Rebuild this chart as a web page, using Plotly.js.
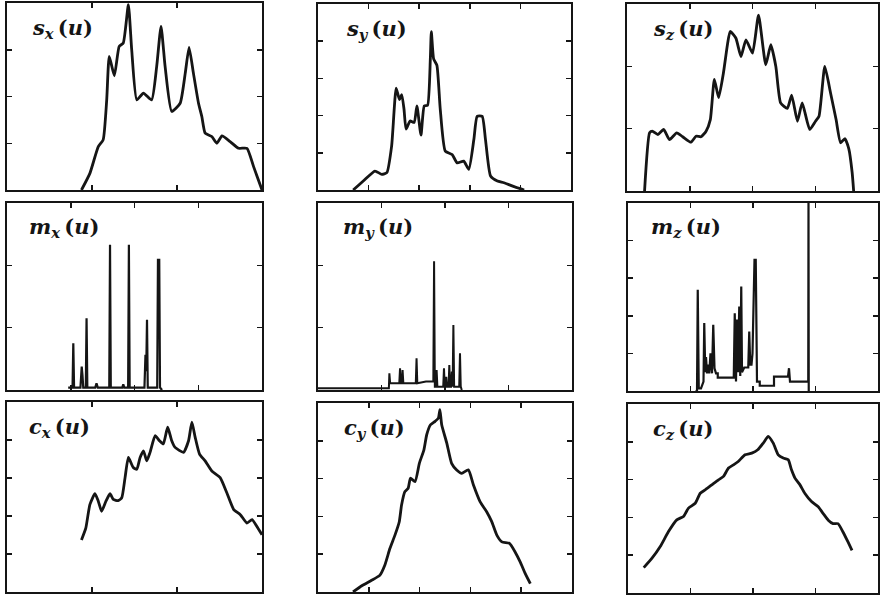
<!DOCTYPE html>
<html><head><meta charset="utf-8">
<script src="https://cdn.plot.ly/plotly-3.0.1.min.js"></script>
<style>html,body{margin:0;padding:0;background:#fff}#chart{width:880px;height:595px}</style>
</head><body><div id="chart"></div>
<script>
// ---- data (u and value in percent of each panel's axis range) ----
const U_sx = [29.2,32.5,35.8,37.7,39.1,40.1,42.1,44.0,45.6,47.6,48.9,50.9,53.5,56.7,58.7,60.4,62.0,64.6,67.9,69.9,71.4,73.1,75.1,76.4,77.7,80.3,82.3,84.3,87.5,90.8,94.1,96.7,100];
const V_sx = [0,8.9,23.2,26.8,48.2,71.4,61.1,76.8,78.6,99.1,75.0,48.2,51.8,48.2,66.1,87.5,66.1,42.0,46.4,62.5,76.3,62.5,46.4,39.3,30.4,28.6,25.0,28.9,25.9,22.3,22.3,12.5,0];

const U_sy = [13.9,17.9,22.5,25.2,27.2,29.1,30.9,32.2,33.1,34.0,34.8,36.4,38.0,39.1,40.7,42.0,43.3,44.4,44.8,45.7,47.0,48.3,50.3,53.0,55.0,57.6,59.6,61.6,62.9,64.9,66.2,68.2,70.9,73.5,77.5,81.5];
const V_sy = [0,4.8,10.2,8.4,9.3,23.6,54.8,48.6,51.3,43.4,32.7,37.1,36.3,45.2,29.5,45.2,45.5,70.5,85.2,70.5,67.0,43.8,20.9,19.1,14.6,15.5,11.1,27.1,39.6,39.6,27.1,7.5,4.8,3.9,1.8,0];

const U_sz = [7.0,9.0,10.1,12.3,14.6,16.9,19.8,22.2,25.5,27.5,29.5,31.5,33.2,34.8,36.5,38.4,40.1,41.1,43.4,45.4,47.4,50.0,52.4,55.3,57.3,59.3,61.2,63.9,65.6,67.9,69.8,72.8,75.1,76.5,78.8,81.1,83.3,85.1,86.8,88.4,89.7,90.3];
const V_sz = [0,31.1,32.0,30.2,32.9,27.5,31.1,29.0,26.1,29.3,29.0,32.0,38.2,59.7,49.9,63.0,79.0,85.3,81.7,71.9,80.8,73.7,94.0,67.5,78.2,66.6,47.1,44.2,51.3,37.3,47.1,32.9,37.3,40.0,66.6,52.4,38.2,25.8,28.0,22.4,9.9,0];

const U_mx = [24.0,25.7,26.0,26.3,28.8,29.3,29.6,29.9,30.9,31.2,31.5,34.6,35.1,35.6,40.1,40.4,40.7,45.2,45.6,46.0,47.5,47.8,48.1,53.9,54.3,54.6,54.9,55.2,55.5,58.9,59.2,59.7,60.0,60.8];
const V_mx = [1.3,1.3,25.0,1.3,1.3,12.5,8.0,1.3,1.3,38.4,1.3,1.3,3.6,1.3,1.3,77.7,1.3,1.3,3.0,1.3,1.3,77.7,1.3,1.3,18.8,10.0,37.5,1.3,1.3,1.3,69.6,69.6,1.3,0];

const U_my = [0,27.9,28.1,28.4,32.0,32.3,32.6,33.0,33.3,33.6,38.5,38.8,39.1,42.5,45.4,45.7,46.0,46.4,46.7,47.0,49.3,49.6,49.9,50.2,50.5,50.8,51.4,51.7,52.0,52.4,52.7,53.0,53.3,53.6,54.6,55.6,55.9,56.2,56.6];
const V_my = [0.9,0.9,8.9,3.6,3.6,11.6,3.6,3.6,10.7,3.6,3.6,17.0,3.6,4.5,4.5,68.8,1.8,1.8,10.7,1.8,1.8,11.6,1.8,1.8,7.1,1.8,1.8,13.4,1.8,1.8,9.8,1.8,34.8,1.8,1.8,1.8,19.6,1.8,0];

const U_mz = [27.0,27.6,27.9,28.3,29.2,30.2,30.5,30.9,31.2,31.6,32.0,32.5,33.0,33.6,34.1,34.6,35.2,35.9,35.9,42.3,42.7,43.2,43.6,44.0,44.5,44.9,45.3,45.6,46.5,48.1,48.5,48.9,49.4,49.8,50.6,51.1,51.6,52.7,52.7,58.4,58.4,64.0,64.4,64.8,72.1,72.2,72.3];
const V_mz = [0,0,53.8,1.4,1.4,5,36.1,10,18,9.4,14,9.4,20,9.4,35.2,12,9.4,9.4,7.1,7.1,41.4,5,38,10,45,8,55.6,10,12.5,12.5,31.6,14,14,20,69.8,69.8,5,5,2.8,2.8,7.6,7.6,12.1,5.0,5.0,100,0];

const U_cx = [29.2,30.9,32.5,34.5,35.8,37.1,38.8,40.4,41.7,43.6,45.0,46.3,47.6,49.5,50.9,52.2,53.5,54.8,56.1,58.1,59.8,61.3,63.0,64.6,65.9,69.2,71.2,72.5,73.8,75.5,77.7,80.3,83.6,86.2,88.9,91.5,94.1,96.1,98.0,100];
const V_cx = [27.4,33.6,46.0,51.7,47.8,42.5,47.8,51.7,48.7,48.1,49.6,60.2,70.8,65.5,64.6,70.8,74.3,69.0,73.5,82.3,79.6,77.9,86.7,79.6,76.1,73.5,79.6,89.4,81.4,72.6,69.0,63.7,60.2,52.2,43.4,40.7,36.3,38.1,34.5,30.1];

const U_cy = [13.8,17.1,21.1,24.3,26.3,28.3,30.3,32.0,32.9,34.2,35.5,36.4,38.2,39.9,41.7,42.8,44.3,46.1,47.4,48.0,48.7,50.7,52.6,54.6,56.6,59.2,61.2,63.8,66.4,68.4,70.4,72.4,75.4,77.6,79.6,81.6,83.6];
const V_cy = [0,3.2,6.2,8.8,14.2,23.0,30.1,37.2,46.0,53.1,54.9,60.2,58.4,68.1,75.2,83.2,88.5,90.3,92.0,96.5,88.5,78.8,68.1,64.6,62.8,64.6,56.6,47.8,42.5,37.2,30.1,26.5,25.7,21.2,15.9,9.7,4.4];

const U_cz = [6.3,9.6,12.9,16.2,19.5,22.2,24.2,26.9,28.9,30.9,33.5,36.2,38.2,40.2,42.2,44.1,46.8,49.5,51.9,54.1,56.1,58.1,60.1,62.1,64.1,65.4,66.8,68.8,70.7,73.4,76.1,78.1,80.1,82.0,84.0,86.0,88.0,89.6];
const V_cz = [13.4,18.4,24.6,32.5,38.7,40.5,44.9,47.5,52.8,54.6,57.2,59.9,61.7,66.1,67.8,69.6,73.1,74.0,75.8,79.3,82.9,79.3,73.1,71.4,70.5,65.2,60.8,57.2,52.8,48.4,45.6,42.0,38.5,36.7,36.7,32.3,27.0,22.6];

const LABEL_NAMES = ['s','s','s','m','m','m','c','c','c'];
const LABEL_SUBS  = ['x','y','z','x','y','z','x','y','z'];
const SERIES_U = [U_sx,U_sy,U_sz,U_mx,U_my,U_mz,U_cx,U_cy,U_cz];
const SERIES_V = [V_sx,V_sy,V_sz,V_mx,V_my,V_mz,V_cx,V_cy,V_cz];

// ---- layout (pixels) ----
const W = 880, H = 595;
const BOX = [[7,262,3,190],[318,571,4,190],[627,878,4,191],
             [7,262,203,390],[318,572,203,390],[628,878,203,391],
             [7,262,402,592],[318,572,403,592],[628,878,404,593]];
const NX = [3,5,4, 4,4,4, 3,5,4];
const NY = [4,5,3, 3,3,5, 5,5,5];
const LW = [2.8,2.8,2.8, 2.2,2,2.2, 2.8,2.8,2.8];
const SMOOTH = [true,true,true, false,false,false, true,true,true];
const LX = [23,26,24, 20,23,21, 20,24,23];
const INK = '#151515';

const traces = [];
const layout = {width:W,height:H,margin:{l:0,r:0,t:0,b:0},paper_bgcolor:'#fff',plot_bgcolor:'#fff',showlegend:false,annotations:[]};
const ticks = k => Array.from({length:k-1},(_,j)=>100*(j+1)/k);
for (let i=0;i<9;i++){
  const n = i===0 ? '' : String(i+1);
  traces.push({x:SERIES_U[i],y:SERIES_V[i],xaxis:'x'+n,yaxis:'y'+n,type:'scatter',mode:'lines',
    line:SMOOTH[i]?{color:INK,width:LW[i],shape:'spline',smoothing:0.5}:{color:INK,width:LW[i]},hoverinfo:'skip'});
  const [l,r,t,b] = BOX[i];
  const common = {showline:true,linecolor:INK,linewidth:2,mirror:'ticks',ticks:'inside',ticklen:5,tickwidth:1.5,
    tickcolor:INK,showticklabels:false,showgrid:false,zeroline:false,range:[0,100],tickmode:'array',fixedrange:true};
  layout['xaxis'+n] = Object.assign({},common,{domain:[l/W,r/W],anchor:'y'+n,tickvals:ticks(NX[i])});
  layout['yaxis'+n] = Object.assign({},common,{domain:[1-b/H,1-t/H],anchor:'x'+n,tickvals:ticks(NY[i])});
  layout.annotations.push({xref:'paper',yref:'paper',x:(l+LX[i])/W,y:1-(t+25)/H,xanchor:'left',yanchor:'middle',
    showarrow:false,text:'<b><i>'+LABEL_NAMES[i]+'</i><sub><i>'+LABEL_SUBS[i]+'</i></sub>\u2009(<i>u</i>)</b>',
    font:{family:'"DejaVu Serif", "Liberation Serif", serif',size:21,color:INK}});
}
Plotly.newPlot('chart',traces,layout,{staticPlot:true,displayModeBar:false});
</script></body></html>
